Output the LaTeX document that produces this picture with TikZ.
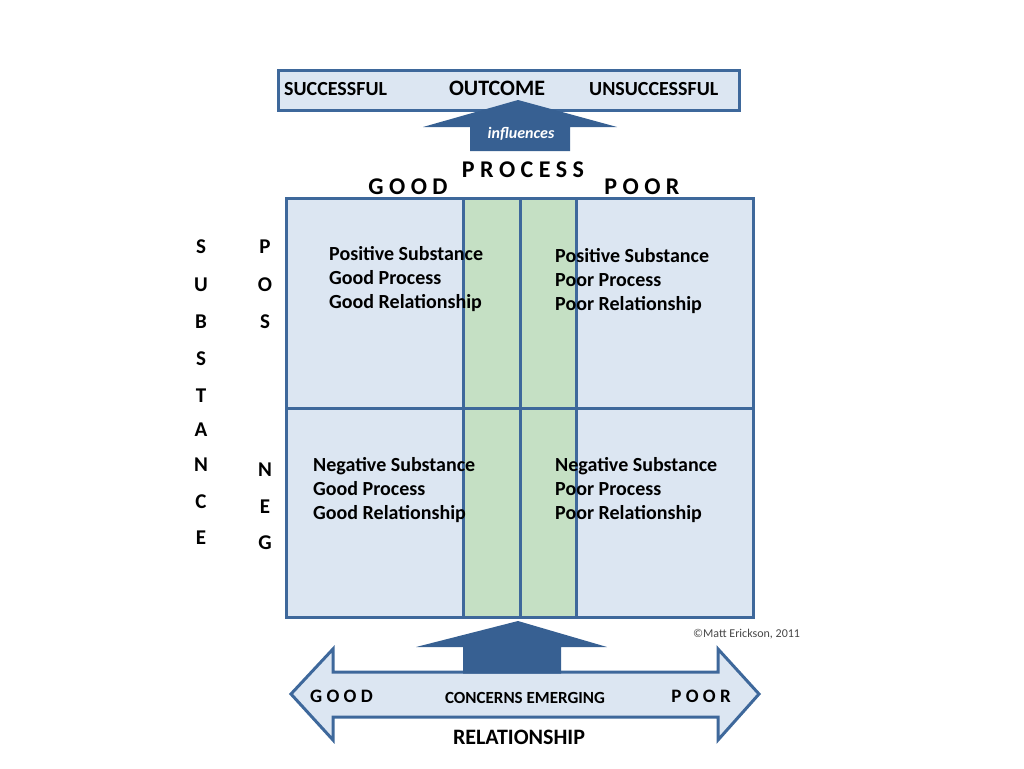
\documentclass[tikz,border=0pt]{standalone}
\usepackage{fontspec}
\setmainfont{Carlito}
\definecolor{edge}{RGB}{62,104,155}
\definecolor{dark}{RGB}{55,96,146}
\definecolor{light}{RGB}{220,230,242}
\definecolor{band}{RGB}{197,224,196}
\definecolor{copy}{RGB}{70,70,70}
\begin{document}
\begin{tikzpicture}[x=1pt,y=-1pt,
  lbl/.style={inner sep=0,font=\bfseries\fontsize{20}{24}\selectfont},
  big/.style={inner sep=0,font=\bfseries\fontsize{24}{28}\selectfont},
  cell/.style={inner sep=0,align=left,anchor=west,font=\bfseries\fontsize{20}{24}\selectfont},
  letter/.style={inner sep=0,font=\bfseries\fontsize{21}{24}\selectfont},
  line/.style={draw=edge,line width=3pt},
  darrow/.style={fill=dark,draw=none},
]
\useasboundingbox (0,0) rectangle (1024,768);

% outcome box
\node[line,fill=light,minimum width=461pt,minimum height=40pt,anchor=north west,inner sep=0] (outbox) at (277,69) {};
\node[lbl,anchor=west] (succ) at (284,89) {SUCCESSFUL};
\node[inner sep=0,font=\bfseries\fontsize{22}{26}\selectfont] (outc) at (497,88) {OUTCOME};
\node[lbl,anchor=west] (unsucc) at (589,89) {UNSUCCESSFUL};

% influences arrow
\path[darrow] (518,100) -- (617,127) -- (570,127) -- (570,151) -- (470,151) -- (470,127) -- (423,127) -- cycle;
\node[inner sep=0,text=white,font=\bfseries\itshape\fontsize{16}{18}\selectfont] (infl) at (521,134) {influences};

% process labels
\node[big] (process) at (523,170) {P R O C E S S};
\node[big] (pgood) at (408,187) {G O O D};
\node[big] (ppoor) at (642,187) {P O O R};

% grid
\fill[light] (286,198) rectangle (753,617);
\fill[band] (463,198) rectangle (576,617);
\draw[line] (286,198) rectangle (753,617);
\draw[line] (286,408) -- (753,408);
\draw[line] (463,198) -- (463,617);
\draw[line] (520,198) -- (520,617);
\draw[line] (576,198) -- (576,617);

% cell texts
\node[cell] (c11) at (329,279) {Positive Substance\\Good Process\\Good Relationship};
\node[cell] (c12) at (555,281) {Positive Substance\\Poor Process\\Poor Relationship};
\node[cell] (c21) at (313,490) {Negative Substance\\Good Process\\Good Relationship};
\node[cell] (c22) at (555,490) {Negative Substance\\Poor Process\\Poor Relationship};

% substance column
\foreach \ch/\yy [count=\i] in {S/247,U/285,B/322,S/359,T/396,A/430,N/465,C/502,E/538}
  \node[letter] (sub\i) at (201,\yy) {\ch};
\foreach \ch/\yy [count=\i] in {P/247,O/285,S/322}
  \node[letter] (pos\i) at (265,\yy) {\ch};
\foreach \ch/\yy [count=\i] in {N/470,E/507,G/543}
  \node[letter] (neg\i) at (265,\yy) {\ch};

% relationship double arrow
\path[fill=light,draw=edge,line width=3pt,line join=miter]
  (291,694) -- (333,649) -- (333,672) -- (718,672) -- (718,649) -- (759,694)
  -- (718,740) -- (718,717) -- (333,717) -- (333,740) -- cycle;
% concerns arrow
\path[darrow] (518,621) -- (607,647) -- (561,647) -- (561,673.5) -- (463,673.5) -- (463,647) -- (416,647) -- cycle;

\node[inner sep=0,font=\bfseries\fontsize{19}{22}\selectfont,anchor=west] (rgood) at (310,696) {G O O D};
\node[inner sep=0,font=\bfseries\fontsize{17}{20}\selectfont] (conc) at (525,698) {CONCERNS EMERGING};
\node[inner sep=0,font=\bfseries\fontsize{19}{22}\selectfont,anchor=east] (rpoor) at (731,696) {P O O R};
\node[inner sep=0,font=\bfseries\fontsize{22}{26}\selectfont] (rel) at (519,737) {RELATIONSHIP};

% copyright
\node[inner sep=0,text=copy,font=\fontsize{12}{14}\selectfont,anchor=west] (cpy) at (693,634) {©Matt Erickson, 2011};
\end{tikzpicture}
\end{document}
